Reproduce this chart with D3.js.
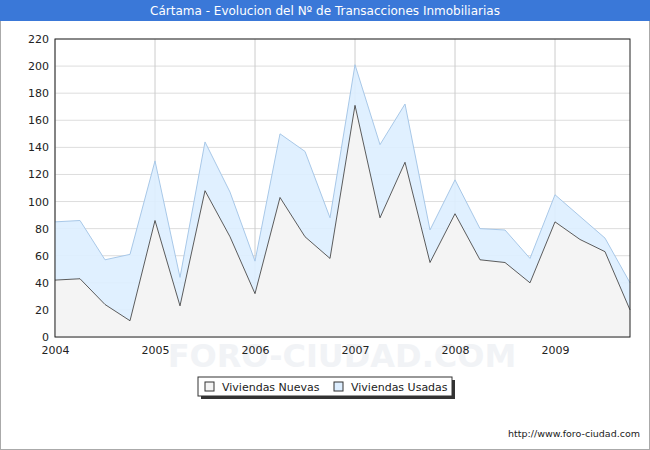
<!DOCTYPE html><html><head><meta charset="utf-8">
<script src="https://cdn.jsdelivr.net/npm/d3@7"></script>
<style>body{margin:0;background:#fff}svg{font-family:Verdana,"DejaVu Sans",sans-serif}</style></head><body>
<svg id="c" width="650" height="450"></svg>
<script>
const quarters = d3.range(24).map(i => 2004 + i*0.25);
const nuevas = [42,43,24,12,86,23,108,74,32,103,74,58,171,88,129,55,91,57,55,40,85,72,63,20];
const totales = [85,86,57,61,130,44,144,107,56,150,137,88,201,142,172,79,116,80,79,58,105,89,73,40];
const usadas = totales.map((t,i)=>t-nuevas[i]);
const yTicks = d3.range(0,221,20);
const xTicks = [2004,2005,2006,2007,2008,2009];
const svg = d3.select("#c");
svg.append("rect").attr("x",0.5).attr("y",0.5).attr("width",649).attr("height",449).attr("fill","#fff").attr("stroke","#aaa");
svg.append("rect").attr("x",0).attr("y",0).attr("width",650).attr("height",21).attr("fill","#3a78d8");
svg.append("text").attr("x",325).attr("y",15).attr("text-anchor","middle").attr("fill","#fff").attr("font-size",12).text("Cártama - Evolucion del Nº de Transacciones Inmobiliarias");
const x = d3.scaleLinear().domain([2004,2009.75]).range([55,630]);
const y = d3.scaleLinear().domain([0,220]).range([337,39]);
svg.append("rect").attr("x",55).attr("y",39).attr("width",575).attr("height",298).attr("fill","#fff");
svg.append("text").attr("x",342).attr("y",367).attr("text-anchor","middle").attr("font-size",32).attr("fill","#f1f3f6").attr("font-weight","bold").text("FORO-CIUDAD.COM");
const g=svg.append("g");
yTicks.forEach(t=>g.append("line").attr("x1",55).attr("x2",630).attr("y1",y(t)).attr("y2",y(t)).attr("stroke","#ddd"));
xTicks.forEach(t=>g.append("line").attr("x1",x(t)).attr("x2",x(t)).attr("y1",39).attr("y2",337).attr("stroke","#ccc"));
const area=(lo)=>d3.area().x((d,i)=>x(quarters[i])).y1(d=>y(d)).y0((d,i)=>y(lo?lo[i]:0));
svg.append("path").datum(totales).attr("d",area(nuevas)).attr("fill","#ddeeff").attr("opacity",0.9);
svg.append("path").datum(nuevas).attr("d",area(null)).attr("fill","#f4f4f4");
const line=d3.line().x((d,i)=>x(quarters[i])).y(d=>y(d));
svg.append("path").datum(totales).attr("d",line).attr("fill","none").attr("stroke","#a8c8e8").attr("stroke-width",1);
svg.append("path").datum(nuevas).attr("d",line).attr("fill","none").attr("stroke","#333").attr("stroke-width",0.8);
svg.append("rect").attr("x",55).attr("y",39).attr("width",575).attr("height",298).attr("fill","none").attr("stroke","#222");
svg.append("g").attr("transform","translate(55,0)").call(d3.axisLeft(y).tickValues(yTicks).tickSize(0).tickPadding(6)).call(a=>a.select(".domain").remove()).selectAll("text").attr("font-size",11).attr("font-family","Verdana,DejaVu Sans").attr("fill","#222");
svg.append("g").attr("transform","translate(0,337)").call(d3.axisBottom(x).tickValues(xTicks).tickFormat(d3.format("d")).tickSize(0).tickPadding(9)).call(a=>a.select(".domain").remove()).selectAll("text").attr("font-size",11).attr("font-family","Verdana,DejaVu Sans").attr("fill","#222");
const L=svg.append("g");
L.append("rect").attr("x",201).attr("y",380).attr("width",254).attr("height",19).attr("fill","#333");
L.append("rect").attr("x",198).attr("y",377).attr("width",254).attr("height",19).attr("fill","#fff").attr("stroke","#333");
const items=[["Viviendas Nuevas","#f4f4f4",205],["Viviendas Usadas","#ddeeff",334]];
items.forEach(([t,c,lx])=>{L.append("rect").attr("x",lx).attr("y",382).attr("width",9).attr("height",9).attr("fill",c).attr("stroke","#333");
L.append("text").attr("x",lx+17).attr("y",391).attr("font-size",11).attr("fill","#222").text(t);});
svg.append("text").attr("x",640).attr("y",437).attr("text-anchor","end").attr("font-size",9.5).attr("fill","#222").text("http://www.foro-ciudad.com");
</script></body></html>
